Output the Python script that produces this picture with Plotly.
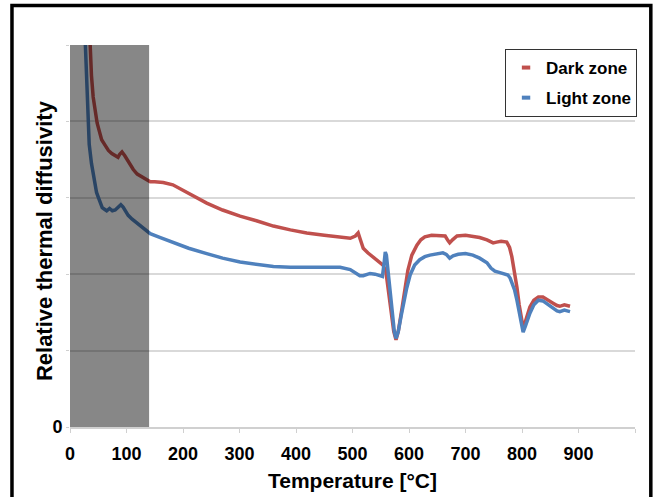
import plotly.graph_objects as go

# Temperature [°C] and relative thermal diffusivity
dark_temp = [30, 35, 38, 41, 44, 48, 52, 56, 62, 68, 74, 80, 85, 88, 92, 97, 103, 112, 119, 130, 142,
             150, 165, 182, 197, 212, 242, 270, 301, 330, 360, 390, 419, 450, 478, 496, 505, 510, 514,
             519, 527, 536, 545, 554, 559, 563, 568, 573, 577, 581, 588, 593, 598, 605, 614, 621, 628,
             640, 655, 664, 669, 672, 677, 685, 700, 713, 725, 738, 749, 755, 763, 773, 778, 782, 787,
             791, 795, 799, 802, 806, 814, 821, 829, 837, 845, 855, 862, 867, 875, 880, 885]
dark_vals = [6.0, 5.0, 4.6, 4.32, 4.15, 3.98, 3.87, 3.76, 3.69, 3.62, 3.58, 3.55, 3.53, 3.57, 3.60, 3.55,
             3.47, 3.37, 3.31, 3.26, 3.21,
             3.21, 3.20, 3.17, 3.11, 3.06, 2.93, 2.84, 2.76, 2.70, 2.63, 2.58, 2.54, 2.51, 2.48, 2.47,
             2.50, 2.54, 2.45,
             2.34, 2.28, 2.23, 2.17, 2.12, 2.04, 1.83, 1.55, 1.25, 1.14, 1.25, 1.57, 1.82, 2.05, 2.25,
             2.38, 2.45, 2.49,
             2.51, 2.51, 2.50, 2.44, 2.41, 2.45, 2.50, 2.51, 2.50, 2.48, 2.45, 2.41, 2.42, 2.43, 2.42,
             2.35, 2.23, 2.03,
             1.83, 1.60, 1.38, 1.30, 1.38, 1.57, 1.66, 1.70, 1.70, 1.67, 1.62, 1.59, 1.58, 1.60, 1.59, 1.58]

light_temp = [22, 27, 29, 31, 34, 38, 42, 44, 47, 50, 54, 57, 61, 65, 70, 75, 80, 85, 90, 94, 99, 103,
              110, 119, 130, 142, 160, 182, 210, 242, 270, 301, 330, 360, 390, 419, 450, 478, 496, 505,
              513, 519, 525, 531, 540, 549, 553, 556, 558, 560, 562, 566, 570, 574, 577, 581, 586, 590,
              596, 602, 610, 619, 628, 637, 650, 660, 666, 672, 678, 687, 700, 713, 725, 738, 745, 752,
              761, 775, 779, 782, 787, 791, 796, 802, 806, 814, 821, 829, 837, 845, 855, 862, 867, 875,
              880, 885]
light_vals = [6.0, 5.0, 4.5, 4.0, 3.7, 3.45, 3.25, 3.19, 3.07, 3.01, 2.92, 2.87, 2.85, 2.83, 2.86, 2.83,
              2.84, 2.87, 2.91, 2.88, 2.81, 2.77,
              2.72, 2.67, 2.60, 2.53, 2.48, 2.42, 2.34, 2.27, 2.21, 2.16, 2.13, 2.10, 2.09, 2.09, 2.09,
              2.09, 2.06, 2.02,
              1.98, 1.98, 2.00, 2.01, 2.00, 1.98, 1.97, 2.15, 2.29, 2.25, 2.10, 1.80, 1.50, 1.25, 1.16,
              1.25, 1.45, 1.60,
              1.82, 1.99, 2.12, 2.19, 2.23, 2.25, 2.27, 2.28, 2.26, 2.21, 2.24, 2.26, 2.27, 2.25, 2.21,
              2.15, 2.08, 2.04,
              2.02, 1.99, 1.95, 1.90, 1.79, 1.66, 1.45, 1.24, 1.32, 1.49, 1.60, 1.66, 1.65, 1.61, 1.56,
              1.52, 1.51, 1.53,
              1.52, 1.51]

series_names = ["Dark zone", "Light zone"]
series_colors = ["#C0504D", "#4F81BD"]
x_ticks = [0, 100, 200, 300, 400, 500, 600, 700, 800, 900, 1000]
x_ticktext = ["0", "100", "200", "300", "400", "500", "600", "700", "800", "900", ""]
y_ticks = [0, 1, 2, 3, 4, 5]
y_ticktext = ["0", "", "", "", "", ""]
shade_range = [0, 140]
x_title = "Temperature [°C]"
y_title = "Relative thermal diffusivity"

FONT = "Liberation Sans, Arial, sans-serif"

fig = go.Figure()
for name, xs, ys, col in [(series_names[0], dark_temp, dark_vals, series_colors[0]),
                          (series_names[1], light_temp, light_vals, series_colors[1])]:
    fig.add_trace(go.Scatter(x=xs, y=ys, mode="lines", line=dict(color=col, width=3.5),
                             showlegend=False, hoverinfo="skip"))
for name, col in zip(series_names, series_colors):
    fig.add_trace(go.Scatter(x=[None], y=[None], mode="markers", name=name,
                             legendgroup=name,
                             marker=dict(symbol="line-ew-open", size=6, color=col,
                                         line=dict(color=col, width=4))))

# shaded region
fig.add_shape(type="rect", xref="x", yref="y", x0=shade_range[0], x1=shade_range[1], y0=0, y1=5,
              fillcolor="rgba(0,0,0,0.47)", line=dict(width=0), layer="above")
# outer frame
fig.add_shape(type="rect", xref="paper", yref="paper", x0=-0.1027, x1=1.028, y0=-0.25, y1=1.1034,
              line=dict(color="black", width=3.5), fillcolor="rgba(0,0,0,0)", layer="above")

# y axis title
fig.add_annotation(text=y_title, xref="paper", yref="paper", x=-0.044, y=0.487,
                   textangle=-90, showarrow=False, xanchor="center", yanchor="middle",
                   font=dict(family=FONT, size=22, color="black", weight="bold"))

fig.update_layout(
    width=653, height=497,
    margin=dict(l=70, r=18, t=45, b=70, autoexpand=False),
    paper_bgcolor="white", plot_bgcolor="white",
    font=dict(family=FONT, color="black"),
    legend=dict(x=0.77, y=0.9895, xanchor="left", yanchor="top",
                bgcolor="white", bordercolor="#333333", borderwidth=1,
                font=dict(family=FONT, size=17, color="black", weight="bold"),
                itemwidth=30, traceorder="grouped", tracegroupgap=5),
    xaxis=dict(range=[0, 1000], tickmode="array", tickvals=x_ticks, ticktext=x_ticktext,
               showgrid=False, zeroline=False, showline=True, linecolor="#d0d0d0", linewidth=1.5,
               ticks="outside", ticklen=4, tickcolor="#d0d0d0", ticklabelstandoff=6,
               tickfont=dict(family=FONT, size=18, color="black", weight="bold"),
               title=dict(text=x_title, standoff=10,
                          font=dict(family=FONT, size=21, color="black", weight="bold"))),
    yaxis=dict(range=[0, 5], tickmode="array", tickvals=y_ticks, ticktext=y_ticktext,
               showgrid=True, gridcolor="#d9d9d9", gridwidth=1.5, zeroline=False, showline=False,
               ticks="outside", ticklen=3, tickcolor="#d0d0d0",
               tickfont=dict(family=FONT, size=18, color="black", weight="bold")),
)

fig.write_html("out.html", post_script="document.body.style.margin='0px';",
               config={"displayModeBar": False})
